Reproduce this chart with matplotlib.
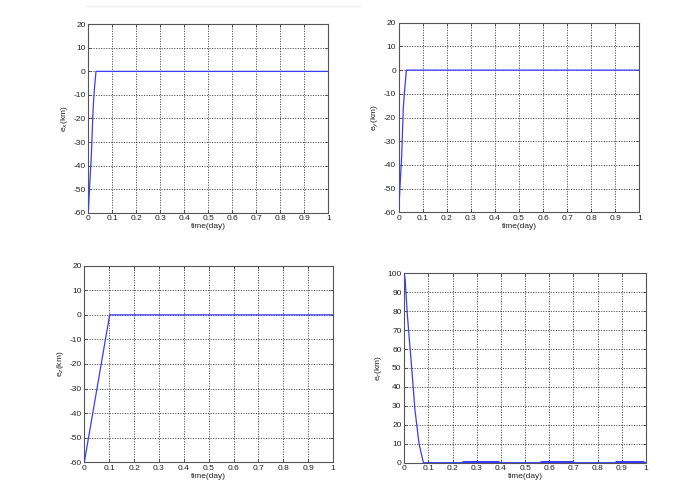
import matplotlib
matplotlib.use("Agg")
import matplotlib.pyplot as plt
import numpy as np

plt.rcParams['font.family'] = ['Liberation Sans', 'DejaVu Sans']
plt.rcParams['axes.unicode_minus'] = False

# data
t_x = [0, 0.005, 0.0125, 0.02, 0.025, 0.032, 1.0]
e_x = [-60, -50, -36, -16, -8, 0, 0]

t_y = [0, 0.005, 0.0125, 0.019, 0.025, 0.032, 1.0]
e_y = [-60, -50, -36, -16, -8, 0, 0]

t_z = [0, 0.102, 1.0]
e_z = [-60, 0, 0]

t_r = [0, 0.004, 0.012, 0.030, 0.044, 0.061, 0.079, 1.0]
e_r = [100, 96, 79, 51, 28, 10, 0, 0]
r_bump_starts = [0.24, 0.56, 0.87]
r_bump_ends = [0.39, 0.70, 0.99]
r_bump_level = 0.3

xticks = [0, 0.1, 0.2, 0.3, 0.4, 0.5, 0.6, 0.7, 0.8, 0.9, 1]
xticklabels = ['0', '0.1', '0.2', '0.3', '0.4', '0.5', '0.6', '0.7', '0.8', '0.9', '1']

W, H = 685, 501
fig = plt.figure(figsize=(W / 100, H / 100), dpi=100)

def px_axes(l, r, t, b):
    return fig.add_axes([l / W, 1 - b / H, (r - l) / W, (b - t) / H])

panels = [
    dict(box=(88.3, 328.3, 24.3, 212.7), t=t_x, e=e_x, lab=r'e$_x$(km)', ylim=(-60, 20), yt=range(-60, 21, 10)),
    dict(box=(398.7, 639.3, 22.7, 212.3), t=t_y, e=e_y, lab=r'e$_y$(km)', ylim=(-60, 20), yt=range(-60, 21, 10)),
    dict(box=(84.3, 333.0, 265.7, 462.3), t=t_z, e=e_z, lab=r'e$_z$(km)', ylim=(-60, 20), yt=range(-60, 21, 10)),
    dict(box=(404.3, 646.0, 273.3, 462.7), t=t_r, e=e_r, lab=r'e$_r$(km)', ylim=(0, 100), yt=range(0, 101, 10)),
]

blue = '#3b3bff'
txt = '#222222'
for i, p in enumerate(panels):
    ax = px_axes(*p['box'])
    ax.plot(p['t'], p['e'], color=blue, lw=0.9, zorder=3)
    if i == 3:
        for s, e in zip(r_bump_starts, r_bump_ends):
            ax.plot([s, e], [r_bump_level, r_bump_level], color=blue, lw=2.2, zorder=3, solid_capstyle='butt')
    ax.set_xlim(0, 1)
    ax.set_ylim(*p['ylim'])
    ax.set_xticks(xticks)
    ax.set_xticklabels(xticklabels)
    ax.set_yticks(list(p['yt']))
    ax.grid(True, color='#222222', linestyle=(0, (1.5, 1.8)), linewidth=0.55)
    ax.tick_params(axis='both', labelsize=6, colors=txt, length=2, width=0.5, direction='in', pad=2)
    ax.tick_params(top=True, right=True)
    for sp in ax.spines.values():
        sp.set_color('#555555')
        sp.set_linewidth(0.8)
    ax.set_xlabel('time(day)', fontsize=6, color=txt, labelpad=0.5)
    ax.set_ylabel(p['lab'], fontsize=6, color=txt, labelpad=2)

# faint line at top of image
fig.add_artist(plt.Line2D([85 / W, 360 / W], [1 - 6 / H, 1 - 6 / H], color='#eeeeee', lw=0.8))

fig.savefig('out.png', dpi=100, facecolor='white')
